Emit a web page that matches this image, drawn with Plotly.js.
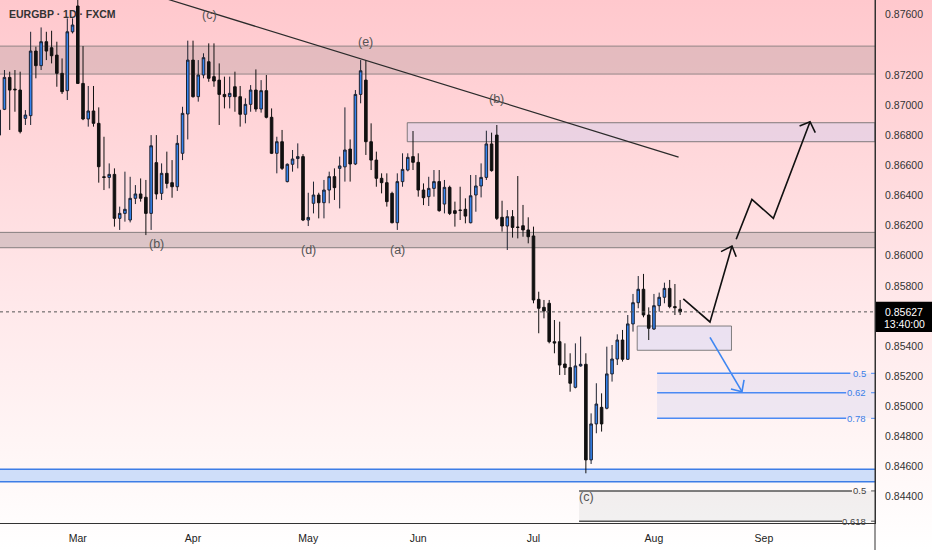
<!DOCTYPE html>
<html><head><meta charset="utf-8">
<script src="https://cdn.plot.ly/plotly-3.0.1.min.js"></script>
<style>
html,body{margin:0;padding:0;}
body{width:932px;height:550px;overflow:hidden;background:linear-gradient(180deg,#ffc8cd 0%,#ffd9dc 30%,#ffe8ea 55%,#fff5f5 80%,#ffffff 100%);}
#chart{width:932px;height:550px;}
</style></head><body><div id="chart"></div>
<script>
// ---- data (daily candles, first candle = Mon 9 Feb) ----
const firstDate = '2026-02-09';
const opens = [
0.86801,0.86972,0.87184,0.87106,0.87100,0.86912,0.86930,0.87359,0.87262,0.87421,
0.87381,0.87332,0.87211,0.87096,0.87487,0.87658,0.87144,0.86908,0.86961,0.86879,
0.86524,0.86520,0.86540,0.86248,0.86281,0.86237,0.86381,0.86410,0.86388,0.86281,
0.86618,0.86414,0.86547,0.86485,0.86458,0.86680,0.86941,0.87299,0.87056,0.87200,
0.87288,0.87189,0.87166,0.87071,0.87056,0.87122,0.87056,0.86939,0.87005,0.87100,
0.86974,0.87096,0.86919,0.86680,0.86757,0.86492,0.86607,0.86645,0.86658,0.86237,
0.86348,0.86403,0.86352,0.86436,0.86525,0.86580,0.86590,0.86708,0.86609,0.87071,
0.87166,0.86757,0.86635,0.86514,0.86485,0.86414,0.86219,0.86492,0.86569,0.86658,
0.86620,0.86436,0.86392,0.86447,0.86492,0.86343,0.86454,0.86299,0.86303,0.86308,
0.86219,0.86403,0.86463,0.86520,0.86742,0.86801,0.86255,0.86197,0.86259,0.86190,
0.86199,0.86171,0.86131,0.85710,0.85657,0.85684,0.85429,0.85429,0.85281,0.85257,
0.85126,0.85268,0.85279,0.84644,0.84883,0.84993,0.84987,0.85215,0.85314,0.85440,
0.85312,0.85547,0.85688,0.85777,0.85606,0.85513,0.85668,0.85724,0.85783,0.85662,
0.85645];
const highs = [
0.86985,0.87233,0.87222,0.87233,0.87222,0.86967,0.87487,0.87388,0.87516,0.87487,
0.87494,0.87421,0.87310,0.87576,0.87576,0.87740,0.87392,0.87127,0.87127,0.86985,
0.86790,0.86613,0.86580,0.86326,0.86558,0.86524,0.86469,0.86513,0.86503,0.86801,
0.86801,0.86613,0.86691,0.86635,0.86801,0.86989,0.87428,0.87428,0.87299,0.87344,
0.87410,0.87410,0.87277,0.87189,0.87189,0.87222,0.87127,0.87045,0.87133,0.87237,
0.87166,0.87200,0.86978,0.86790,0.86835,0.86613,0.86702,0.86746,0.86675,0.86418,
0.86492,0.86418,0.86503,0.86558,0.86580,0.86658,0.86985,0.86772,0.87100,0.87299,
0.87299,0.86879,0.86691,0.86547,0.86547,0.86425,0.86547,0.86680,0.86680,0.86828,
0.86680,0.86480,0.86524,0.86569,0.86569,0.86503,0.86465,0.86359,0.86458,0.86381,
0.86536,0.86536,0.86613,0.86830,0.86817,0.86868,0.86365,0.86303,0.86303,0.86529,
0.86337,0.86255,0.86193,0.85761,0.85706,0.85706,0.85573,0.85562,0.85418,0.85352,
0.85418,0.85463,0.85352,0.84953,0.85153,0.85086,0.85396,0.85407,0.85478,0.85507,
0.85606,0.85746,0.85865,0.85879,0.85657,0.85746,0.85755,0.85821,0.85839,0.85812,
0.85706];
const lows = [
0.86790,0.86967,0.86835,0.86956,0.86812,0.86868,0.86868,0.87178,0.87233,0.87299,
0.87277,0.87122,0.87074,0.87034,0.87476,0.87140,0.86900,0.86857,0.86857,0.86485,
0.86436,0.86447,0.86193,0.86171,0.86226,0.86221,0.86343,0.86359,0.86137,0.86171,
0.86374,0.86370,0.86447,0.86385,0.86430,0.86635,0.86772,0.87050,0.87023,0.87178,
0.87155,0.87122,0.86868,0.86978,0.86978,0.86956,0.86857,0.86879,0.86956,0.86956,
0.86950,0.86912,0.86675,0.86547,0.86569,0.86487,0.86558,0.86580,0.86230,0.86197,
0.86281,0.86248,0.86248,0.86348,0.86370,0.86314,0.86492,0.86492,0.86602,0.87012,
0.86669,0.86569,0.86458,0.86414,0.86326,0.86215,0.86171,0.86458,0.86560,0.86569,
0.86392,0.86336,0.86330,0.86392,0.86292,0.86281,0.86270,0.86193,0.86237,0.86215,
0.86215,0.86292,0.86387,0.86503,0.86558,0.86237,0.86160,0.86038,0.86120,0.86115,
0.86126,0.86082,0.85684,0.85485,0.85584,0.85418,0.85352,0.85208,0.85208,0.85097,
0.85119,0.85263,0.84555,0.84617,0.84821,0.84832,0.84980,0.85164,0.85274,0.85297,
0.85308,0.85496,0.85651,0.85591,0.85440,0.85507,0.85628,0.85684,0.85651,0.85606,
0.85606];
const closes = [
0.86967,0.87184,0.87100,0.87102,0.86824,0.86934,0.87359,0.87262,0.87421,0.87359,
0.87328,0.87211,0.87089,0.87487,0.87532,0.87144,0.86908,0.86961,0.86879,0.86591,
0.86520,0.86540,0.86248,0.86281,0.86308,0.86381,0.86410,0.86381,0.86281,0.86730,
0.86410,0.86547,0.86480,0.86458,0.86746,0.86945,0.87299,0.87056,0.87200,0.87315,
0.87178,0.87160,0.87071,0.87056,0.87078,0.87056,0.86939,0.87005,0.87100,0.86974,
0.87096,0.86919,0.86680,0.86757,0.86580,0.86607,0.86642,0.86658,0.86237,0.86254,
0.86403,0.86352,0.86436,0.86525,0.86452,0.86596,0.86702,0.86609,0.87071,0.87228,
0.86757,0.86635,0.86514,0.86485,0.86359,0.86219,0.86492,0.86573,0.86653,0.86620,
0.86436,0.86385,0.86447,0.86492,0.86299,0.86454,0.86281,0.86281,0.86301,0.86263,
0.86398,0.86463,0.86520,0.86742,0.86565,0.86248,0.86197,0.86259,0.86188,0.86188,
0.86171,0.86126,0.85706,0.85651,0.85633,0.85429,0.85420,0.85274,0.85257,0.85153,
0.85268,0.85279,0.84644,0.84883,0.85015,0.84883,0.85215,0.85314,0.85440,0.85312,
0.85547,0.85688,0.85777,0.85606,0.85518,0.85668,0.85724,0.85783,0.85662,0.85655,
0.85627];
const lastPrice = 0.85627;
const countdown = '13:40:00';
const monthTickDates = ['2026-03-02','2026-04-01','2026-05-01','2026-06-01','2026-07-01','2026-08-03','2026-09-01'];
const monthTickLabels = ['Mar','Apr','May','Jun','Jul','Aug','Sep'];
const priceTicks = [0.876,0.872,0.870,0.868,0.866,0.864,0.862,0.860,0.858,0.854,0.852,0.850,0.848,0.846,0.844];

// ---- drawings: [bar index from 2 Mar, price] ----
const marIndex = 15;
const viewBars = [-14.85, 152.2];
const priceRange = [0.84225, 0.87698];
const trendLine = [[17.0, 0.87705], [114.7, 0.86655]];
const waveLabels = [['(c)',25.1,0.87598],['(b)',15.1,0.86078],['(e)',54.9,0.87419],['(b)',79.9,0.87040],['(d)',44.0,0.86038],['(a)',61.0,0.86038],['(c)',97.1,0.84398]];
const arrowA = [[115.6,0.85713],[120.7,0.85560],[124.9,0.86064],null,[122.8,0.86027],[124.9,0.86064],[125.7,0.85993]];
const arrowB = [[125.7,0.86109],[128.7,0.86374],[132.8,0.86248],[139.8,0.86890],null,[137.8,0.86861],[139.8,0.86890],[140.8,0.86817]];
const arrowDown = [[120.7,0.85458],[126.8,0.85097],null,[124.7,0.85115],[126.8,0.85097],[127.2,0.85175]];
const topBand = [0.87206, 0.87392];
const midBand = [0.86053, 0.86155];
const blueBand = [0.84499, 0.84582];
const lavenderBox = [62.9, 0.86757, 0.86883];
const smallBox = [106.8, 124.8, 0.85372, 0.85533];
const blueFibStart = 110.6;
const blueFib = [['0.5',0.85219,147.5],['0.62',0.85090,146.7],['0.78',0.84920,146.7]];
const greyFibStart = 95.7;
const greyFib = [['0.5',0.84438,147.8],['0.618',0.84237,145.9]];

// ---- helpers ----
function weekdays(start, n){
  const out=[]; let t=new Date(start+'T00:00:00Z').getTime();
  while(out.length<n){ const d=new Date(t); const w=d.getUTCDay(); if(w!==0&&w!==6) out.push(d.toISOString().slice(0,10)); t+=86400000; }
  return out;
}
const axisDays = weekdays(firstDate, 200);
const dates = axisDays.slice(0, opens.length);
function bx(b){
  const k=Math.floor(b); const f=b-k;
  const t=new Date(axisDays[k+marIndex]+'T00:00:00Z').getTime()+f*86400000;
  return new Date(t).toISOString().replace('T',' ').slice(0,19);
}
const xL = bx(viewBars[0]), xR = bx(viewBars[1]);
const FONT = 'Liberation Sans, Arial, sans-serif';

function polyTrace(pts, color){
  return {type:'scatter', mode:'lines', x:pts.map(p=>p?bx(p[0]):null), y:pts.map(p=>p?p[1]:null),
    line:{color:color, width:1.6}, hoverinfo:'skip', showlegend:false, connectgaps:false};
}

const traces = [
  {type:'candlestick', x:dates, open:opens, high:highs, low:lows, close:closes,
   increasing:{line:{color:'#1c2230', width:1}, fillcolor:'#3584ef'},
   decreasing:{line:{color:'#111111', width:1}, fillcolor:'#111111'},
   whiskerwidth:0, hoverinfo:'skip', showlegend:false},
  polyTrace(arrowA,'#111111'),
  polyTrace(arrowB,'#111111'),
  polyTrace(arrowDown,'#3d86f2')
];

const shapes = [];
const annotations = [];
function band(r, fill, lc, lw){
  shapes.push({type:'rect', xref:'paper', yref:'y', x0:0, x1:1, y0:r[0], y1:r[1], fillcolor:fill, line:{width:0}, layer:'below'});
  r.forEach(v=>shapes.push({type:'line', xref:'paper', yref:'y', x0:0, x1:1, y0:v, y1:v, line:{color:lc, width:lw}, layer:'below'}));
}
band(topBand, 'rgba(120,115,115,0.20)', 'rgba(110,110,110,0.7)', 1);
band(midBand, 'rgba(120,115,115,0.26)', 'rgba(100,100,100,0.75)', 1);
band(blueBand, 'rgba(160,195,250,0.50)', '#3d7de6', 1.6);
shapes.push({type:'rect', xref:'x', yref:'y', x0:bx(lavenderBox[0]), x1:xR, y0:lavenderBox[1], y1:lavenderBox[2], fillcolor:'rgba(205,205,240,0.40)', line:{color:'rgba(100,100,100,0.8)', width:1}, layer:'below'});
shapes.push({type:'rect', xref:'x', yref:'y', x0:bx(smallBox[0]), x1:bx(smallBox[1]), y0:smallBox[2], y1:smallBox[3], fillcolor:'rgba(215,215,245,0.50)', line:{color:'rgba(100,100,100,0.8)', width:1}, layer:'below'});
// blue fib
shapes.push({type:'rect', xref:'x', yref:'y', x0:bx(blueFibStart), x1:xR, y0:blueFib[2][1], y1:blueFib[0][1], fillcolor:'rgba(205,208,242,0.35)', line:{width:0}, layer:'below'});
blueFib.forEach(f=>{
  shapes.push({type:'line', xref:'x', yref:'y', x0:bx(blueFibStart), x1:bx(f[2]), y0:f[1], y1:f[1], line:{color:'#4a8af4', width:1.5}});
  shapes.push({type:'line', xref:'paper', yref:'y', x0:0.9955, x1:1, y0:f[1], y1:f[1], line:{color:'#4a8af4', width:1}});
  annotations.push({xref:'paper', yref:'y', x:0.9925, y:f[1], xanchor:'right', yanchor:'middle', text:f[0], showarrow:false, font:{family:FONT, size:9.5, color:'#3b7fe8'}});
});
// grey fib
shapes.push({type:'rect', xref:'x', yref:'y', x0:bx(greyFibStart), x1:xR, y0:greyFib[1][1], y1:greyFib[0][1], fillcolor:'rgba(205,205,205,0.25)', line:{width:0}, layer:'below'});
greyFib.forEach(f=>{
  shapes.push({type:'line', xref:'x', yref:'y', x0:bx(greyFibStart), x1:bx(f[2]), y0:f[1], y1:f[1], line:{color:'#555555', width:1.5}});
  shapes.push({type:'line', xref:'paper', yref:'y', x0:0.9955, x1:1, y0:f[1], y1:f[1], line:{color:'#555555', width:1}});
  annotations.push({xref:'paper', yref:'y', x:0.9925, y:f[1], xanchor:'right', yanchor:'middle', text:f[0], showarrow:false, font:{family:FONT, size:9.5, color:'#444444'}});
});
// trend line
shapes.push({type:'line', xref:'x', yref:'y', x0:bx(trendLine[0][0]), y0:trendLine[0][1], x1:bx(trendLine[1][0]), y1:trendLine[1][1], line:{color:'#2b2b2b', width:1.2}});
// last price dotted line
shapes.push({type:'line', xref:'paper', yref:'y', x0:0, x1:1, y0:lastPrice, y1:lastPrice, line:{color:'#555555', width:1, dash:'dot'}});
// right axis line down to bottom
shapes.push({type:'line', xref:'paper', yref:'paper', x0:1, x1:1, y0:-27/523, y1:1, line:{color:'#333333', width:1}});
// price label box
const yp = v => (v - priceRange[0])/(priceRange[1]-priceRange[0]);
const lp = yp(lastPrice);
shapes.push({type:'rect', xref:'paper', yref:'paper', x0:1.001, x1:1.0660, y0:lp-0.0385, y1:lp+0.0195, fillcolor:'#000000', line:{width:0}});
annotations.push({xref:'paper', yref:'paper', x:1.0335, y:lp, xanchor:'center', yanchor:'middle', text:lastPrice.toFixed(5), showarrow:false, font:{family:FONT, size:10.5, color:'#ffffff'}});
annotations.push({xref:'paper', yref:'paper', x:1.0335, y:lp-0.024, xanchor:'center', yanchor:'middle', text:countdown, showarrow:false, font:{family:FONT, size:10.5, color:'#ffffff'}});
// wave labels
waveLabels.forEach(w=>annotations.push({xref:'x', yref:'y', x:bx(w[1]), y:w[2], text:w[0], showarrow:false, xanchor:'center', yanchor:'middle', font:{family:FONT, size:12.5, color:'#555555'}}));
// title
annotations.push({xref:'paper', yref:'paper', x:0.008, y:1-14/523, xanchor:'left', yanchor:'middle', text:'<b>EURGBP · 1D · FXCM</b>', showarrow:false, font:{family:FONT, size:10.5, color:'#333333'}});

const layout = {
  width:932, height:550, showlegend:false,
  margin:{l:0, r:57, t:0, b:27, pad:0},
  paper_bgcolor:'rgba(0,0,0,0)', plot_bgcolor:'rgba(0,0,0,0)',
  xaxis:{type:'date', range:[xL, xR], rangebreaks:[{bounds:['sat','mon']}], rangeslider:{visible:false},
    tickmode:'array', tickvals:monthTickDates, ticktext:monthTickLabels, showgrid:false, zeroline:false,
    showline:true, linecolor:'#333333', linewidth:1, ticks:'', ticklabelstandoff:5,
    tickfont:{family:FONT, size:10.5, color:'#222222'}, fixedrange:true},
  yaxis:{side:'right', range:priceRange, tickmode:'array', tickvals:priceTicks, ticktext:priceTicks.map(v=>v.toFixed(5)),
    showgrid:false, zeroline:false, showline:true, linecolor:'#333333', linewidth:1, ticks:'', ticklabelstandoff:7,
    tickfont:{family:FONT, size:10.5, color:'#333333'}, fixedrange:true},
  shapes:shapes, annotations:annotations
};
Plotly.newPlot('chart', traces, layout, {staticPlot:true, displayModeBar:false});
</script></body></html>
